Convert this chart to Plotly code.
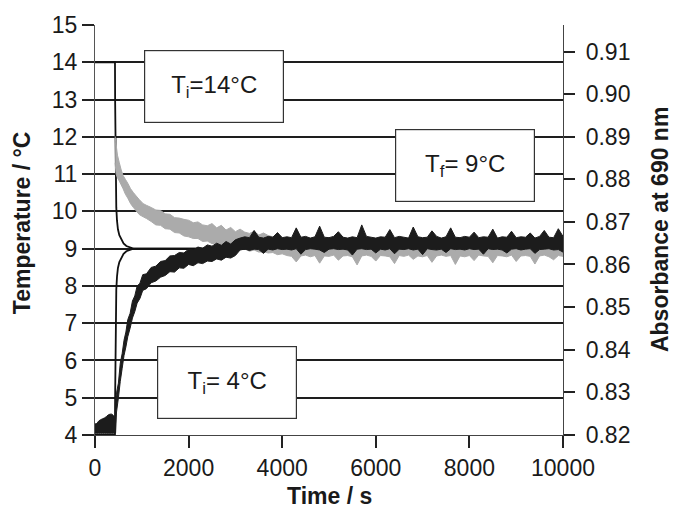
import plotly.graph_objects as go

# ---------------- data ----------------
# temperature profiles (left axis, °C)
temp_t = [0, 427, 430, 436, 444, 455, 470, 490, 520, 560, 610, 670, 740, 820, 10000]
temp_hot = [14, 14, 13.0, 11.8, 10.8, 10.1, 9.75, 9.52, 9.36, 9.24, 9.14, 9.07, 9.03, 9.0, 9.0]
temp_cold = [4, 4, 5.0, 6.2, 7.2, 7.9, 8.25, 8.48, 8.64, 8.76, 8.86, 8.93, 8.97, 9.0, 9.0]

# absorbance trace, T_i = 4 °C (black): time, lower and upper envelope of the noisy record
abs4_t = [0, 40, 80, 120, 160, 200, 240, 280, 320, 360, 400, 427, 440,
          460, 500, 540, 580, 620, 660, 700, 750, 800, 850, 900, 960, 1020, 1100,
          1200, 1300, 1400, 1500, 1600, 1700, 1800, 1900, 2000, 2100, 2200, 2300,
          2400, 2500, 2600, 2700, 2800, 2900, 3000,
          3100, 3200, 3300, 3400, 3500, 3600, 3700, 3800, 3900, 4000,
          4100, 4200, 4300, 4400, 4500, 4600, 4700, 4800, 4900, 5000,
          5100, 5200, 5300, 5400, 5500, 5600, 5700, 5800, 5900, 6000,
          6100, 6200, 6300, 6400, 6500, 6600, 6700, 6800, 6900, 7000,
          7100, 7200, 7300, 7400, 7500, 7600, 7700, 7800, 7900, 8000,
          8100, 8200, 8300, 8400, 8500, 8600, 8700, 8800, 8900, 9000,
          9100, 9200, 9300, 9400, 9500, 9600, 9700, 9800, 9900, 10000]
abs4_lo = [0.8203, 0.8203, 0.8203, 0.8203, 0.8203, 0.8203, 0.8203, 0.8203, 0.8203, 0.8203, 0.8203, 0.8203, 0.8204,
           0.8253, 0.8286, 0.8325, 0.8355, 0.8386, 0.8406, 0.8430, 0.8450, 0.8474, 0.8489, 0.8509, 0.8520, 0.8539, 0.8543,
           0.8557, 0.8561, 0.8570, 0.8574, 0.8583, 0.8582, 0.8592, 0.8591, 0.8600, 0.8597, 0.8604, 0.8602,
           0.8608, 0.8607, 0.8613, 0.8610, 0.8617, 0.8615, 0.8621,
           0.8634, 0.8636, 0.8633, 0.8636, 0.8635, 0.8626, 0.8636, 0.8634, 0.8637, 0.8635,
           0.8636, 0.8634, 0.8637, 0.8624, 0.8635, 0.8637, 0.8636, 0.8634, 0.8628, 0.8636,
           0.8637, 0.8635, 0.8636, 0.8634, 0.8622, 0.8636, 0.8637, 0.8635, 0.8636, 0.8627,
           0.8636, 0.8634, 0.8637, 0.8625, 0.8636, 0.8635, 0.8637, 0.8634, 0.8636, 0.8623,
           0.8637, 0.8635, 0.8634, 0.8636, 0.8628, 0.8637, 0.8635, 0.8636, 0.8634, 0.8637,
           0.8635, 0.8636, 0.8624, 0.8637, 0.8635, 0.8636, 0.8634, 0.8627, 0.8636, 0.8637,
           0.8634, 0.8636, 0.8637, 0.8626, 0.8635, 0.8636, 0.8637, 0.8634, 0.8635, 0.8629]
abs4_hi = [0.8225, 0.8226, 0.8232, 0.8235, 0.8237, 0.8239, 0.8242, 0.8246, 0.8248, 0.8248, 0.8244, 0.8239, 0.8283,
           0.8298, 0.8321, 0.8368, 0.8390, 0.8422, 0.8441, 0.8470, 0.8485, 0.8514, 0.8526, 0.8549, 0.8556, 0.8576, 0.8578,
           0.8593, 0.8596, 0.8607, 0.8609, 0.8620, 0.8621, 0.8628, 0.8627, 0.8636, 0.8634, 0.8641, 0.8638,
           0.8646, 0.8643, 0.8650, 0.8645, 0.8654, 0.8648, 0.8658,
           0.8662, 0.8665, 0.8663, 0.8680, 0.8664, 0.8662, 0.8666, 0.8664, 0.8675, 0.8663,
           0.8665, 0.8663, 0.8686, 0.8664, 0.8666, 0.8662, 0.8665, 0.8690, 0.8664, 0.8663,
           0.8666, 0.8677, 0.8664, 0.8662, 0.8665, 0.8663, 0.8693, 0.8666, 0.8664, 0.8662,
           0.8665, 0.8664, 0.8682, 0.8663, 0.8666, 0.8664, 0.8662, 0.8688, 0.8665, 0.8663,
           0.8664, 0.8679, 0.8666, 0.8662, 0.8665, 0.8686, 0.8664, 0.8663, 0.8666, 0.8664,
           0.8676, 0.8663, 0.8665, 0.8664, 0.8683, 0.8662, 0.8665, 0.8664, 0.8678, 0.8663,
           0.8665, 0.8664, 0.8674, 0.8662, 0.8666, 0.8680, 0.8664, 0.8663, 0.8684, 0.8666]

# absorbance trace, T_i = 14 °C (grey)
abs14_t = [430, 450, 480, 520, 560, 600, 650, 700, 760, 820, 880, 950, 1030, 1100,
           1200, 1300, 1400, 1500, 1600, 1700, 1800, 1900, 2000, 2100, 2200, 2300,
           2400, 2500, 2600, 2700, 2800, 2900, 3000, 3100, 3200, 3300, 3400, 3500,
           3600, 3700, 3800, 3900, 4000,
           4100, 4200, 4300, 4400, 4500, 4600, 4700, 4800, 4900, 5000,
           5100, 5200, 5300, 5400, 5500, 5600, 5700, 5800, 5900, 6000,
           6100, 6200, 6300, 6400, 6500, 6600, 6700, 6800, 6900, 7000,
           7100, 7200, 7300, 7400, 7500, 7600, 7700, 7800, 7900, 8000,
           8100, 8200, 8300, 8400, 8500, 8600, 8700, 8800, 8900, 9000,
           9100, 9200, 9300, 9400, 9500, 9600, 9700, 9800, 9900, 10000]
abs14_lo = [0.8839, 0.8813, 0.8804, 0.8796, 0.8787, 0.8778, 0.8765, 0.8756, 0.8743, 0.8734, 0.8726, 0.8717, 0.8712, 0.8708,
            0.8701, 0.8693, 0.8692, 0.8684, 0.8683, 0.8675, 0.8674, 0.8667, 0.8665, 0.8661, 0.8661, 0.8654,
            0.8655, 0.8649, 0.8650, 0.8645, 0.8646, 0.8640, 0.8639, 0.8636, 0.8637, 0.8631, 0.8634, 0.8629,
            0.8630, 0.8627, 0.8628, 0.8623, 0.8625,
            0.8621, 0.8619, 0.8606, 0.8620, 0.8622, 0.8618, 0.8621, 0.8603, 0.8620, 0.8619,
            0.8622, 0.8610, 0.8620, 0.8621, 0.8618, 0.8599, 0.8620, 0.8622, 0.8619, 0.8608,
            0.8621, 0.8620, 0.8618, 0.8602, 0.8621, 0.8619, 0.8622, 0.8612, 0.8620, 0.8618,
            0.8621, 0.8605, 0.8620, 0.8622, 0.8619, 0.8621, 0.8600, 0.8620, 0.8618, 0.8621,
            0.8609, 0.8622, 0.8620, 0.8619, 0.8604, 0.8621, 0.8620, 0.8618, 0.8622, 0.8607,
            0.8620, 0.8621, 0.8619, 0.8601, 0.8620, 0.8622, 0.8618, 0.8611, 0.8621, 0.8619]
abs14_hi = [0.8901, 0.8883, 0.8857, 0.8839, 0.8822, 0.8809, 0.8800, 0.8791, 0.8778, 0.8769, 0.8761, 0.8752, 0.8743, 0.8739,
            0.8734, 0.8728, 0.8727, 0.8719, 0.8718, 0.8710, 0.8709, 0.8706, 0.8704, 0.8698, 0.8700, 0.8693,
            0.8691, 0.8696, 0.8686, 0.8692, 0.8681, 0.8687, 0.8677, 0.8683, 0.8676, 0.8673, 0.8678, 0.8669,
            0.8674, 0.8668, 0.8665, 0.8670, 0.8664,
            0.8646, 0.8644, 0.8647, 0.8656, 0.8645, 0.8646, 0.8644, 0.8647, 0.8660, 0.8645,
            0.8646, 0.8644, 0.8652, 0.8645, 0.8647, 0.8646, 0.8644, 0.8658, 0.8645, 0.8646,
            0.8647, 0.8644, 0.8646, 0.8645, 0.8654, 0.8646, 0.8644, 0.8647, 0.8645, 0.8646,
            0.8659, 0.8644, 0.8646, 0.8645, 0.8647, 0.8644, 0.8653, 0.8646, 0.8645, 0.8644,
            0.8646, 0.8647, 0.8645, 0.8657, 0.8644, 0.8646, 0.8645, 0.8647, 0.8655, 0.8644,
            0.8646, 0.8645, 0.8647, 0.8644, 0.8646, 0.8651, 0.8645, 0.8644, 0.8647, 0.8646]

x_ticks = [0, 2000, 4000, 6000, 8000, 10000]
temp_ticks = [4, 5, 6, 7, 8, 9, 10, 11, 12, 13, 14, 15]
abs_ticks = [0.82, 0.83, 0.84, 0.85, 0.86, 0.87, 0.88, 0.89, 0.90, 0.91]
box_labels = ["T<sub>i</sub>=14°C", "T<sub>i</sub>= 4°C", "T<sub>f</sub>= 9°C"]
left_title = "Temperature / °C"
right_title = "Absorbance at 690 nm"
bottom_title = "Time / s"

FONT = "Liberation Sans, Arial, Helvetica, sans-serif"
fig = go.Figure()


def add_band(t, lo, hi, color):
    # noisy record drawn as the filled envelope between its lower and upper values
    fig.add_trace(go.Scatter(x=list(t) + list(t)[::-1], y=list(hi) + list(lo)[::-1],
                             yaxis="y2", mode="lines", fill="toself", fillcolor=color,
                             line=dict(color=color, width=1, simplify=False),
                             hoverinfo="skip"))


add_band(abs14_t, abs14_lo, abs14_hi, "#ababab")
add_band(abs4_t, abs4_lo, abs4_hi, "#1c1c1c")

fig.add_trace(go.Scatter(x=temp_t, y=temp_hot, mode="lines",
                         line=dict(color="#111", width=1.8), hoverinfo="skip"))
fig.add_trace(go.Scatter(x=temp_t, y=temp_cold, mode="lines",
                         line=dict(color="#111", width=1.8), hoverinfo="skip"))

fig.update_layout(
    width=676, height=511,
    margin=dict(l=95, r=113, t=23, b=76),
    paper_bgcolor="white", plot_bgcolor="white",
    showlegend=False,
    font=dict(family=FONT, size=23, color="#1a1a1a"),
    xaxis=dict(range=[0, 10000], tickvals=x_ticks, ticktext=[str(v) for v in x_ticks],
               ticks="outside", ticklen=12,
               tickwidth=1.5, tickcolor="#222", showline=True, linecolor="#444",
               linewidth=1.2, showgrid=False, zeroline=False,
               tickfont=dict(size=23)),
    yaxis=dict(range=[4, 15], tickvals=temp_ticks, ticks="outside", ticklen=12,
               tickwidth=1.5, tickcolor="#222", showline=True, linecolor="#555",
               linewidth=1, showgrid=True, gridcolor="#1e1e1e", gridwidth=1.6,
               zeroline=False, tickfont=dict(size=23)),
    yaxis2=dict(range=[0.8199, 0.9163], tickvals=abs_ticks, tickformat=".2f",
                overlaying="y", side="right", ticks="outside", ticklen=11,
                tickwidth=1.5, tickcolor="#222", showline=True, linecolor="#444",
                linewidth=1.2, showgrid=False, zeroline=False,
                tickfont=dict(size=23), ticklabelstandoff=6),
)

annots = [
    dict(text="<b>" + left_title + "</b>", x=-0.156, y=0.519, textangle=-90),
    dict(text="<b>" + right_title + "</b>", x=1.207, y=0.502, textangle=-90),
    dict(text="<b>" + bottom_title + "</b>", x=0.5, y=-0.150, textangle=0),
]
for a in annots:
    fig.add_annotation(xref="paper", yref="paper", showarrow=False,
                       xanchor="center", yanchor="middle",
                       font=dict(family=FONT, size=23, color="#1a1a1a"), **a)

box_pos = [(0.2543, 0.8507), (0.2821, 0.1274), (0.7906, 0.6578)]
for lab, (bxp, byp) in zip(box_labels, box_pos):
    fig.add_annotation(xref="paper", yref="paper", x=bxp, y=byp, text=lab,
                       showarrow=False, xanchor="center", yanchor="middle",
                       width=138, height=71, bgcolor="white",
                       bordercolor="#333", borderwidth=1.2, borderpad=0,
                       font=dict(family=FONT, size=24, color="#1a1a1a"))

fig.write_html("out.html", config={"displayModeBar": False},
               post_script="document.body.style.margin='0';")
